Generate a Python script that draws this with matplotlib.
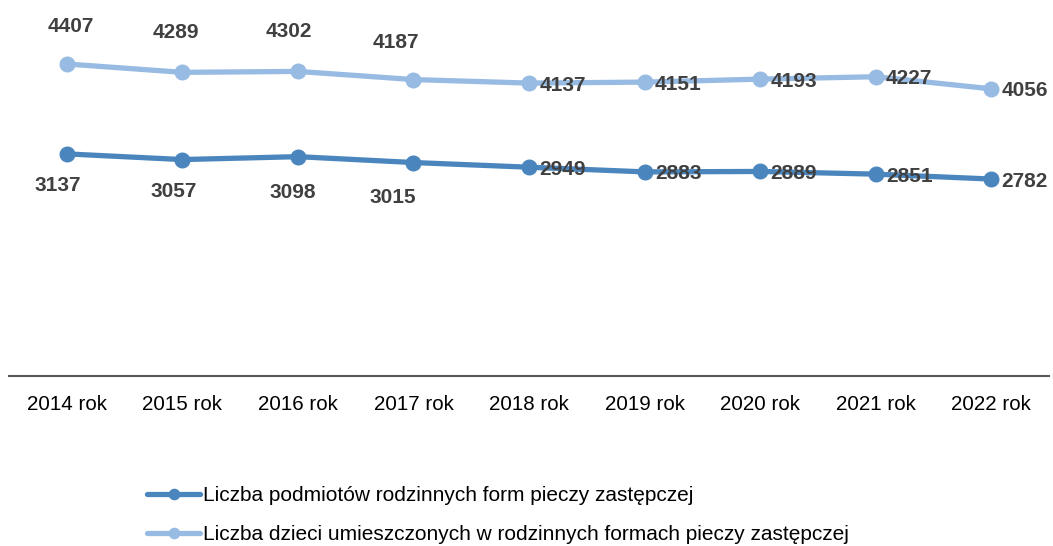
import matplotlib
matplotlib.use("Agg")
import matplotlib.pyplot as plt

plt.rcParams['font.family'] = ['Liberation Sans', 'DejaVu Sans']

years = ["2014 rok", "2015 rok", "2016 rok", "2017 rok", "2018 rok",
         "2019 rok", "2020 rok", "2021 rok", "2022 rok"]
podmioty = [3137, 3057, 3098, 3015, 2949, 2883, 2889, 2851, 2782]
dzieci = [4407, 4289, 4302, 4187, 4137, 4151, 4193, 4227, 4056]
label_podmioty = "Liczba podmiotów rodzinnych form pieczy zastępczej"
label_dzieci = "Liczba dzieci umieszczonych w rodzinnych formach pieczy zastępczej"

dark = "#4A86BD"
light = "#97BBE2"
txt = "#404040"

W, H = 1053, 546
fig = plt.figure(figsize=(W / 100, H / 100), dpi=100)
ax = fig.add_axes([9 / W, 1 - 376 / H, 1040 / W, 354 / H])

x = list(range(len(years)))
ax.plot(x, dzieci, color=light, lw=3.8, marker='o', ms=10.5,
        solid_capstyle='round', label=label_dzieci, zorder=3)
ax.plot(x, podmioty, color=dark, lw=3.8, marker='o', ms=10.5,
        solid_capstyle='round', label=label_podmioty, zorder=3)

# label offsets (points); None -> label to the right of the point
off_d = [(3, 27), (-4.5, 29), (-6.5, 29), (-13, 27), None, None, None, None, None]
off_p = [(-6.5, -23), (-6.5, -23), (-3.6, -26), (-15, -25), None, None, None, None, None]
for i in x:
    for vals, offs in ((dzieci, off_d), (podmioty, off_p)):
        o = offs[i]
        if o is None:
            ax.annotate(str(vals[i]), (i, vals[i]), xytext=(7.5, -1.5),
                        textcoords='offset points', ha='left', va='center',
                        fontsize=15, fontweight='bold', color=txt, zorder=4)
        else:
            ax.annotate(str(vals[i]), (i, vals[i]), xytext=o,
                        textcoords='offset points', ha='center', va='center',
                        fontsize=15, fontweight='bold', color=txt, zorder=4)

ax.set_xlim(-0.5, len(years) - 0.5)
ax.set_ylim(0, 5000)
ax.set_xticks(x)
ax.set_xticklabels(years, fontsize=14.8, color='black')
ax.tick_params(axis='x', length=0, pad=14)
ax.set_yticks([])
for s in ('top', 'right', 'left'):
    ax.spines[s].set_visible(False)
ax.spines['bottom'].set_color('#595959')
ax.spines['bottom'].set_linewidth(1.5)

h, l = ax.get_legend_handles_labels()
leg = fig.legend(h[::-1], l[::-1], loc='upper left',
                 bbox_to_anchor=(139 / W, 1 - 478 / H), frameon=False,
                 fontsize=15, handlelength=2.55, handletextpad=0.1,
                 labelspacing=0.95, borderaxespad=0, markerscale=0.7)

fig.savefig("out.png", dpi=100)
